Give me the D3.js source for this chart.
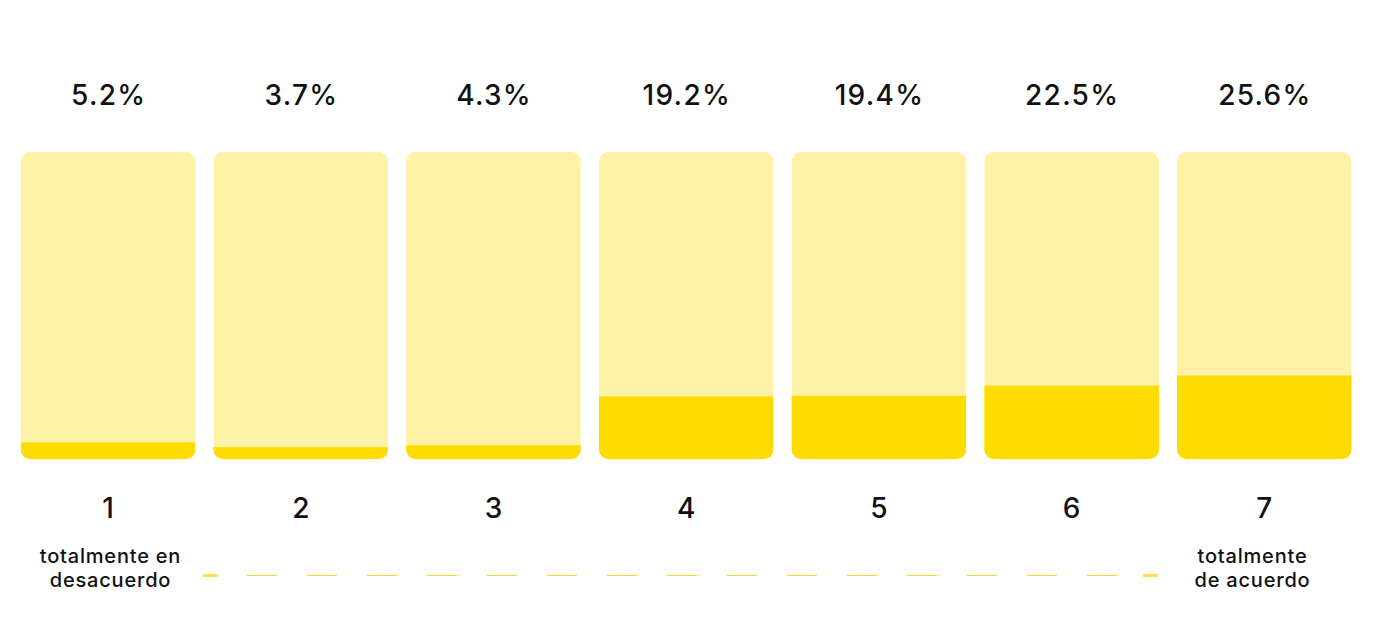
<!DOCTYPE html>
<html>
<head>
<meta charset="utf-8">
<script src="https://cdn.jsdelivr.net/npm/d3@7"></script>
<style>
  html, body { margin: 0; padding: 0; background: #fff; }
  svg { display: block; }
  text { font-family: "Inter", "Lato", sans-serif; fill: #111; }
</style>
</head>
<body>
<svg id="chart" width="1382" height="632"></svg>
<script>
const categories = ["1", "2", "3", "4", "5", "6", "7"];
const values = [5.2, 3.7, 4.3, 19.2, 19.4, 22.5, 25.6];
const valueLabels = ["5.2%", "3.7%", "4.3%", "19.2%", "19.4%", "22.5%", "25.6%"];
const leftLabel = ["totalmente en", "desacuerdo"];
const rightLabel = ["totalmente", "de acuerdo"];

const svg = d3.select("#chart");

const x = d3.scaleBand().domain(categories).range([20.7, 1351.7]).paddingInner(0.093).paddingOuter(0);
const y = d3.scaleLinear().domain([0, 94]).range([459.3, 151.7]);

const radius = 10;
const data = categories.map((c, i) => ({ c, v: values[i], label: valueLabels[i] }));

const defs = svg.append("defs");
defs.selectAll("clipPath").data(data).join("clipPath")
  .attr("id", (d, i) => "clip" + i)
  .append("rect")
  .attr("x", d => x(d.c)).attr("y", y(94))
  .attr("width", x.bandwidth()).attr("height", y(0) - y(94))
  .attr("rx", radius).attr("ry", radius);

const g = svg.append("g");
const bars = g.selectAll("g.bar").data(data).join("g").attr("class", "bar")
  .attr("clip-path", (d, i) => `url(#clip${i})`);

bars.append("rect")
  .attr("x", d => x(d.c)).attr("y", y(94))
  .attr("width", x.bandwidth()).attr("height", y(0) - y(94))
  .attr("fill", "#FEF2A6");

bars.append("rect")
  .attr("x", d => x(d.c)).attr("y", d => y(d.v))
  .attr("width", x.bandwidth()).attr("height", d => y(0) - y(d.v))
  .attr("fill", "#FFDC00");

// value labels
g.selectAll("text.val").data(data).join("text").attr("class", "val")
  .attr("x", d => x(d.c) + x.bandwidth() / 2 + 0.6)
  .attr("y", 105)
  .attr("text-anchor", "middle")
  .attr("font-size", 28)
  .attr("font-weight", 500)
  .attr("letter-spacing", 1.3)
  .text(d => d.label);

// category axis labels
const xAxis = d3.axisBottom(x).tickSize(0).tickPadding(0);
const axisG = svg.append("g").attr("transform", "translate(0,498)").call(xAxis);
axisG.select(".domain").remove();
axisG.selectAll("text")
  .attr("dy", null).attr("y", 20)
  .attr("font-size", 28).attr("font-weight", 500)
  .attr("fill", "#111")
  .style("font-family", '"Inter", "Lato", sans-serif');

// scale legend line
const lineY = 575.5;
svg.append("line").attr("x1", 247).attr("x2", 1128).attr("y1", lineY).attr("y2", lineY)
  .attr("stroke", "#F5D42A").attr("stroke-width", 1).attr("stroke-dasharray", "30 30");
svg.append("line").attr("x1", 202.7).attr("x2", 217.7).attr("y1", lineY).attr("y2", lineY)
  .attr("stroke", "#FCE34E").attr("stroke-width", 3);
svg.append("line").attr("x1", 1143).attr("x2", 1158).attr("y1", lineY).attr("y2", lineY)
  .attr("stroke", "#FCE34E").attr("stroke-width", 3);

const legL = svg.append("text").attr("text-anchor", "middle").attr("font-size", 20).attr("font-weight", 500).attr("letter-spacing", 0.8);
leftLabel.forEach((t, i) => legL.append("tspan").attr("x", 110.5).attr("y", 563 + i * 24).text(t));
const legR = svg.append("text").attr("text-anchor", "middle").attr("font-size", 20).attr("font-weight", 500).attr("letter-spacing", 0.8);
rightLabel.forEach((t, i) => legR.append("tspan").attr("x", 1252.5).attr("y", 563 + i * 24).text(t));
</script>
</body>
</html>
